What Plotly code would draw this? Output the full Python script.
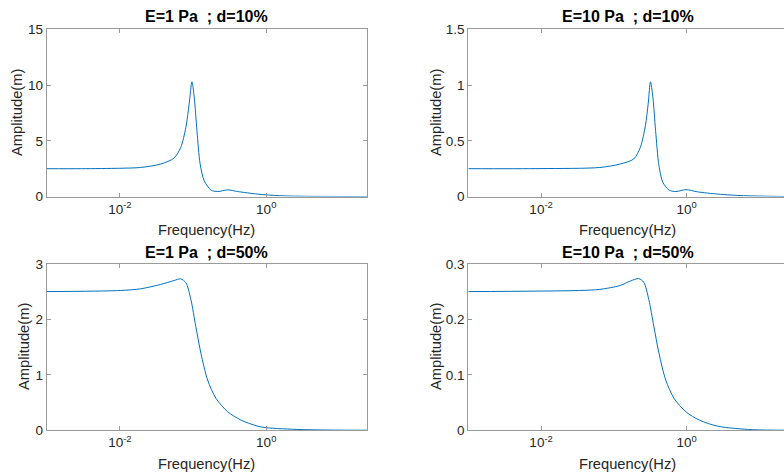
import plotly.graph_objects as go

# ---- data ----
titles = ["E=1 Pa\u00a0\u00a0; d=10%", "E=10 Pa\u00a0\u00a0; d=10%",
          "E=1 Pa\u00a0\u00a0; d=50%", "E=10 Pa\u00a0\u00a0; d=50%"]

f_e1_d10 = [0.001, 0.003, 0.01, 0.0192, 0.0362, 0.0551, 0.068, 0.0798, 0.0885, 0.0965,
            0.1037, 0.113, 0.125, 0.142, 0.176, 0.217, 0.298, 0.408, 0.77, 1.5, 3, 8, 25]
a_e1_d10 = [2.50, 2.50, 2.54, 2.61, 2.92, 3.46, 4.42, 6.22, 8.33, 10.3,
            8.93, 5.92, 2.92, 1.42, 0.58, 0.45, 0.60, 0.45, 0.22, 0.08, 0.03, 0.01, 0.0]

f_e10_d10 = [0.001, 0.01, 0.0641, 0.122, 0.187, 0.231, 0.271, 0.296, 0.318, 0.343,
             0.374, 0.416, 0.472, 0.573, 0.71, 0.98, 1.42, 2.7, 6, 25]
a_e10_d10 = [0.250, 0.251, 0.261, 0.292, 0.337, 0.442, 0.637, 0.833, 1.03, 0.893,
             0.592, 0.277, 0.126, 0.058, 0.045, 0.062, 0.042, 0.022, 0.008, 0.0]

f_e1_d50 = [0.001, 0.0102, 0.0192, 0.0362, 0.055, 0.068, 0.0798, 0.0933, 0.109, 0.128,
            0.158, 0.206, 0.298, 0.454, 0.77, 1.0, 3.0, 10, 25]
a_e1_d50 = [2.50, 2.52, 2.55, 2.63, 2.70, 2.73, 2.66, 2.36, 1.87, 1.39,
            0.906, 0.573, 0.332, 0.181, 0.072, 0.045, 0.012, 0.002, 0.0]

f_e10_d50 = [0.001, 0.0338, 0.064, 0.122, 0.168, 0.219, 0.257, 0.302, 0.354, 0.416,
             0.515, 0.672, 0.978, 1.5, 2.7, 8, 25]
a_e10_d50 = [0.250, 0.252, 0.254, 0.261, 0.269, 0.2735, 0.267, 0.2355, 0.187, 0.139,
             0.0906, 0.0572, 0.0332, 0.0181, 0.0072, 0.001, 0.0]

y_ticks = [[0, 5, 10, 15], [0, 0.5, 1, 1.5], [0, 1, 2, 3], [0, 0.1, 0.2, 0.3]]
x_tickvals = [0.01, 1]
x_ticktext = ["10<sup>-2</sup>", "10<sup>0</sup>"]
x_label = "Frequency(Hz)"
y_label = "Amplitude(m)"

series = [(f_e1_d10, a_e1_d10), (f_e10_d10, a_e10_d10),
          (f_e1_d50, a_e1_d50), (f_e10_d50, a_e10_d50)]

# ---- layout geometry ----
W, H = 784, 475
FONT = "Liberation Sans, Arial, sans-serif"
TXT = "#262626"
AX = "#9a9a9a"
LINE = "#0072BD"


def py(t):
    """target pixel row -> paper y (with a small vertical correction)"""
    return 1 - ((t - 7) / 0.964) / H


xdom = [[46.7 / W, 367.3 / W], [468.3 / W, 1.0]]
xrng = [[-3, 1.381], [-3, 1.337]]
ydom = [[py(195.7), py(29.3)], [py(428.3), py(262.7)]]

fig = go.Figure()
layout = dict(width=W, height=H, margin=dict(l=0, r=0, t=0, b=0),
              paper_bgcolor="white", plot_bgcolor="white", showlegend=False,
              font=dict(family=FONT, color=TXT, size=13))
annotations = []

title_cx = [206 / W, 627.6 / W]
ylab_x = [[17, 436], [24, 436]]
title_y = [py(16), py(251)]
xlab_y = [py(229), py(462)]

for i, (fx, ay) in enumerate(series):
    r, c = divmod(i, 2)
    n = "" if i == 0 else str(i + 1)
    fig.add_trace(go.Scatter(x=fx, y=ay, mode="lines", xaxis="x" + n, yaxis="y" + n,
                             line=dict(color=LINE, width=1, shape="spline", smoothing=0.8),
                             hoverinfo="skip"))
    yt = y_ticks[i]
    layout["xaxis" + n] = dict(domain=xdom[c], anchor="y" + n, type="log", range=xrng[c],
                               tickvals=x_tickvals, ticktext=x_ticktext, ticks="inside",
                               ticklen=4, tickcolor=AX, showline=True, linecolor=AX,
                               linewidth=1, mirror="ticks", showgrid=False, zeroline=False,
                               tickfont=dict(size=13.5, color=TXT, family=FONT))
    layout["yaxis" + n] = dict(domain=ydom[r], anchor="x" + n, range=[yt[0], yt[-1]],
                               tickvals=yt, ticks="inside", ticklen=4, tickcolor=AX,
                               showline=True, linecolor=AX, linewidth=1,
                               mirror=("ticks" if c == 0 else False),
                               showgrid=False, zeroline=False,
                               tickfont=dict(size=13.5, color=TXT, family=FONT))
    annotations.append(dict(text="<b>" + titles[i] + "</b>", x=title_cx[c], y=title_y[r],
                            xref="paper", yref="paper", xanchor="center", yanchor="middle",
                            showarrow=False, font=dict(size=16, color="black", family=FONT)))
    annotations.append(dict(text=x_label, x=title_cx[c], y=xlab_y[r], xref="paper",
                            yref="paper", xanchor="center", yanchor="middle", showarrow=False,
                            font=dict(size=14.7, color=TXT, family=FONT)))
    annotations.append(dict(text=y_label, x=ylab_x[r][c] / W,
                            y=(ydom[r][0] + ydom[r][1]) / 2, xref="paper", yref="paper",
                            xanchor="center", yanchor="middle", textangle=-90,
                            showarrow=False, font=dict(size=14.7, color=TXT, family=FONT)))

layout["annotations"] = annotations
fig.update_layout(**layout)
fig.write_html("out.html")
